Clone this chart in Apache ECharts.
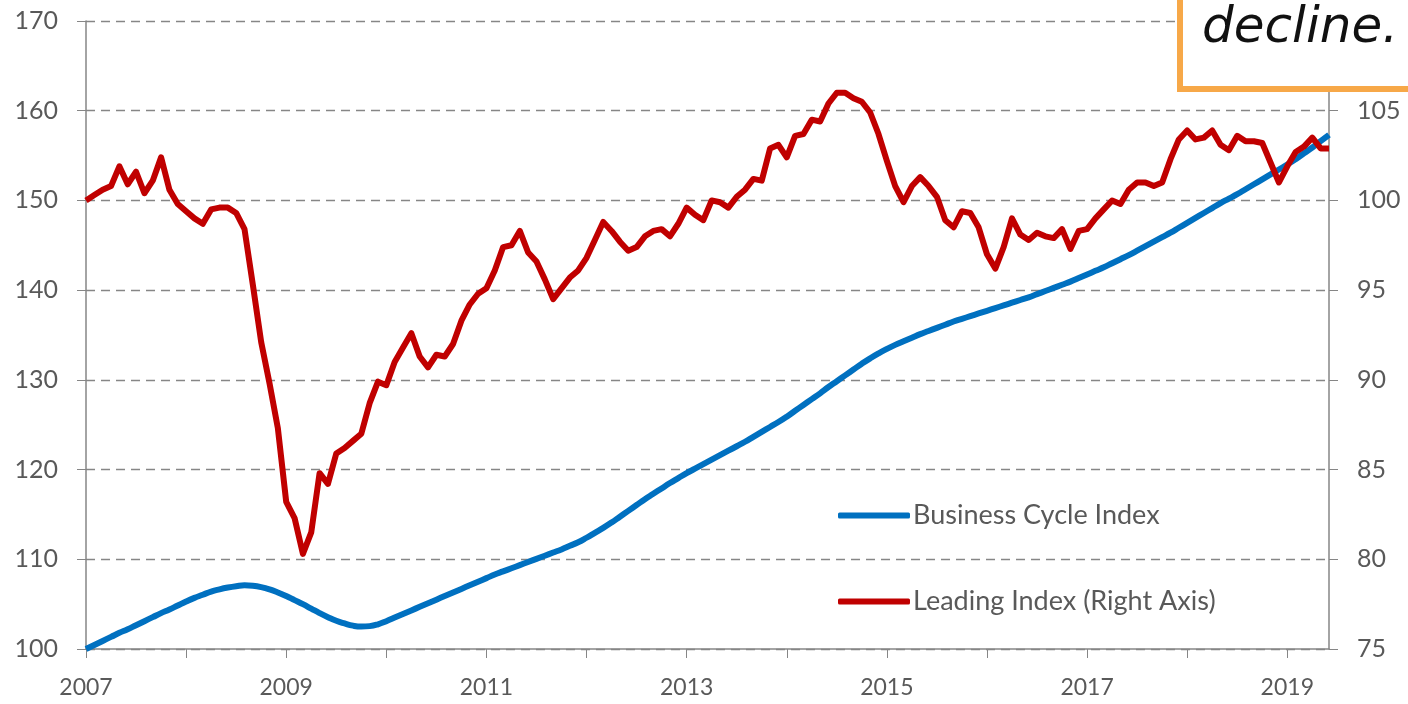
<!DOCTYPE html>
<html>
<head>
<meta charset="utf-8">
<script src="https://cdn.jsdelivr.net/npm/echarts@6/dist/echarts.min.js"></script>
<style>
html, body { margin: 0; padding: 0; background: #fff; }
#chart { width: 1408px; height: 704px; }
</style>
</head>
<body>
<div id="chart"></div>
<script>
// monthly, Jan 2007 .. Jun 2019
var startYear = 2007;
var monthCount = 150;

// Business Cycle Index (left axis)
var businessCycle = [
    100.0, 100.45, 100.9, 101.35, 101.8, 102.2, 102.65, 103.1, 103.55, 104.0, 104.4, 104.85,
    105.3, 105.7, 106.05, 106.4, 106.65, 106.85, 107.0, 107.1, 107.05, 106.9, 106.65, 106.3,
    105.9, 105.45, 105.0, 104.5, 104.0, 103.55, 103.15, 102.85, 102.6, 102.5, 102.55, 102.75,
    103.1, 103.5, 103.9, 104.3, 104.7, 105.1, 105.5, 105.9, 106.3, 106.7, 107.1, 107.5,
    107.9, 108.3, 108.65, 109.0, 109.35, 109.7, 110.05, 110.4, 110.75, 111.1, 111.5, 111.9,
    112.4, 112.95, 113.5, 114.1, 114.75, 115.4, 116.05, 116.7, 117.3, 117.9, 118.5, 119.05,
    119.6, 120.1, 120.6, 121.1, 121.6, 122.1, 122.6, 123.1, 123.65, 124.2, 124.75, 125.3,
    125.9, 126.55, 127.2, 127.85, 128.5, 129.2, 129.85, 130.5, 131.15, 131.8, 132.4, 132.95,
    133.45, 133.9, 134.3, 134.7, 135.1, 135.45, 135.8, 136.15, 136.5, 136.8, 137.1, 137.4,
    137.7, 138.0, 138.3, 138.6, 138.9, 139.2, 139.55, 139.9, 140.25, 140.6, 140.95, 141.35,
    141.75, 142.15, 142.55, 143.0, 143.45, 143.9, 144.4, 144.9, 145.4, 145.9, 146.4, 146.95,
    147.5, 148.05, 148.6, 149.15, 149.7, 150.2, 150.7, 151.25, 151.8, 152.35, 152.9, 153.45,
    154.0, 154.6, 155.25, 155.9, 156.6, 157.3
];

// Leading Index (right axis)
var leadingIndex = [
    100.0, 100.3, 100.6, 100.8, 101.9, 100.9, 101.6, 100.4, 101.1, 102.4, 100.6, 99.8,
    99.4, 99.0, 98.7, 99.5, 99.6, 99.6, 99.3, 98.4, 95.3, 92.1, 89.8, 87.3,
    83.2, 82.3, 80.3, 81.5, 84.8, 84.2, 85.9, 86.2, 86.6, 87.0, 88.7, 89.9,
    89.7, 91.0, 91.8, 92.6, 91.3, 90.7, 91.4, 91.3, 92.0, 93.3, 94.2, 94.8,
    95.1, 96.1, 97.4, 97.5, 98.3, 97.1, 96.6, 95.6, 94.5, 95.1, 95.7, 96.1,
    96.8, 97.8, 98.8, 98.3, 97.7, 97.2, 97.4, 98.0, 98.3, 98.4, 98.0, 98.7,
    99.6, 99.2, 98.9, 100.0, 99.9, 99.6, 100.2, 100.6, 101.2, 101.1, 102.9, 103.1,
    102.4, 103.6, 103.7, 104.5, 104.4, 105.4, 106.0, 106.0, 105.7, 105.5, 104.9, 103.7,
    102.2, 100.8, 99.9, 100.8, 101.3, 100.8, 100.2, 98.9, 98.5, 99.4, 99.3, 98.5,
    97.0, 96.2, 97.4, 99.0, 98.1, 97.8, 98.2, 98.0, 97.9, 98.4, 97.3, 98.3,
    98.4, 99.0, 99.5, 100.0, 99.8, 100.6, 101.0, 101.0, 100.8, 101.0, 102.3, 103.4,
    103.9, 103.4, 103.5, 103.9, 103.1, 102.8, 103.6, 103.3, 103.3, 103.2, 102.1, 101.0,
    101.9, 102.7, 103.0, 103.5, 102.9, 102.9
];

var months = [];
for (var i = 0; i < monthCount; i++) {
    var y = startYear + Math.floor(i / 12);
    var m = (i % 12) + 1;
    months.push(y + "-" + (m < 10 ? "0" + m : m));
}

var seriesNames = ["Business Cycle Index", "Leading Index (Right Axis)"];
var boxText = "decline.";

var axisGrey = "#868686";
var labelGrey = "#595959";
var labelFont = "Lato";

var myChart = echarts.init(document.getElementById("chart"));
var option = {
    animation: false,
    backgroundColor: "#fff",
    grid: {
        left: 86,
        right: 79,
        top: 21,
        bottom: 55
    },
    legend: {
        orient: "vertical",
        left: 833,
        top: 497,
        itemGap: 59,
        itemWidth: 72,
        itemHeight: 6,
        icon: "roundRect",
        textStyle: {
            color: labelGrey,
            fontFamily: labelFont,
            fontSize: 27,
            padding: [0, 0, 0, -2]
        },
        data: seriesNames
    },
    xAxis: {
        type: "category",
        data: months,
        boundaryGap: false,
        axisLine: { lineStyle: { color: axisGrey, width: 1.5 } },
        axisTick: {
            length: 9,
            lineStyle: { color: axisGrey },
            interval: function(index) { return index % 12 === 0; }
        },
        axisLabel: {
            interval: function(index) { return index % 24 === 0; },
            formatter: function(value) { return value.slice(0, 4); },
            color: labelGrey,
            fontFamily: labelFont,
            fontSize: 23,
            margin: 27
        },
        splitLine: { show: false }
    },
    yAxis: [{
        type: "value",
        min: 100,
        max: 170,
        interval: 10,
        axisLine: { show: true, lineStyle: { color: axisGrey, width: 1.5 } },
        axisTick: { show: true, length: 9, lineStyle: { color: axisGrey } },
        axisLabel: {
            color: labelGrey,
            fontFamily: labelFont,
            fontSize: 25,
            margin: 28
        },
        splitLine: {
            show: true,
            lineStyle: { color: axisGrey, type: [9, 6], width: 1.3 }
        }
    }, {
        type: "value",
        min: 75,
        max: 110,
        interval: 5,
        position: "right",
        axisLine: { show: true, lineStyle: { color: axisGrey, width: 1.5 } },
        axisTick: { show: true, length: 9, lineStyle: { color: axisGrey } },
        axisLabel: {
            color: labelGrey,
            fontFamily: labelFont,
            fontSize: 25,
            margin: 28
        },
        splitLine: { show: false }
    }],
    series: [{
        name: seriesNames[0],
        type: "line",
        yAxisIndex: 0,
        data: businessCycle,
        smooth: 0.5,
        showSymbol: false,
        lineStyle: { color: "#0070C0", width: 6 },
        itemStyle: { color: "#0070C0" }
    }, {
        name: seriesNames[1],
        type: "line",
        yAxisIndex: 1,
        data: leadingIndex,
        showSymbol: false,
        lineStyle: { color: "#C00000", width: 6, join: "round" },
        itemStyle: { color: "#C00000" }
    }],
    graphic: [{
        type: "rect",
        z: 100,
        shape: { x: 1180, y: -10, width: 240, height: 99 },
        style: { fill: "#fff", stroke: "#F7A848", lineWidth: 6 }
    }, {
        type: "text",
        z: 101,
        left: 1202,
        top: 4,
        style: {
            text: boxText,
            fill: "#111",
            fontFamily: "DejaVu Sans",
            fontStyle: "italic",
            fontSize: 50
        }
    }]
};
myChart.setOption(option);
</script>
</body>
</html>
